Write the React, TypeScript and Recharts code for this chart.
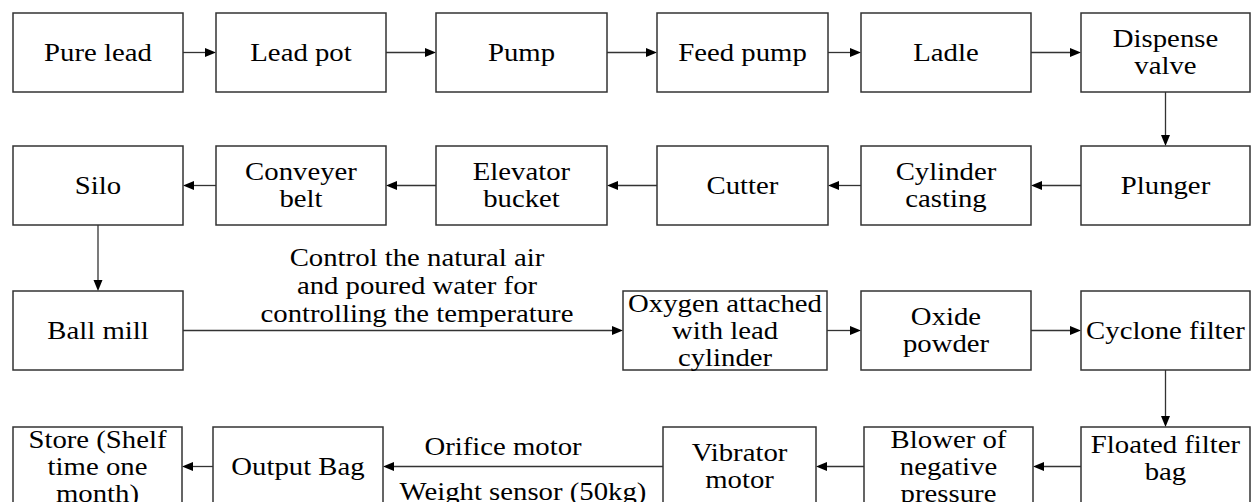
import React from "react";
import { ScatterChart, Scatter, XAxis, YAxis, ReferenceLine } from "recharts";

// ---------- content ----------
const stage1Labels = ["Pure lead", "Lead pot", "Pump", "Feed pump", "Ladle", "Dispense|valve"];
const stage2Labels = ["Silo", "Conveyer|belt", "Elevator|bucket", "Cutter", "Cylinder|casting", "Plunger"];
const stage3Labels = ["Ball mill", "Oxygen attached|with lead|cylinder", "Oxide|powder", "Cyclone filter"];
const stage4Labels = ["Store (Shelf|time one|month)", "Output Bag", "Vibrator|motor", "Blower of|negative|pressure", "Floated filter|bag"];

// process flow (from -> to)
const flowFrom = [
  "Pure lead", "Lead pot", "Pump", "Feed pump", "Ladle", "Dispense|valve",
  "Plunger", "Cylinder|casting", "Cutter", "Elevator|bucket", "Conveyer|belt", "Silo",
  "Ball mill", "Oxygen attached|with lead|cylinder", "Oxide|powder", "Cyclone filter",
  "Floated filter|bag", "Blower of|negative|pressure", "Vibrator|motor", "Output Bag",
];
const flowTo = [
  "Lead pot", "Pump", "Feed pump", "Ladle", "Dispense|valve", "Plunger",
  "Cylinder|casting", "Cutter", "Elevator|bucket", "Conveyer|belt", "Silo", "Ball mill",
  "Oxygen attached|with lead|cylinder", "Oxide|powder", "Cyclone filter", "Floated filter|bag",
  "Blower of|negative|pressure", "Vibrator|motor", "Output Bag", "Store (Shelf|time one|month)",
];
const flowNotesAbove = ["", "", "", "", "", "", "", "", "", "", "", "",
  "Control the natural air|and poured water for|controlling the temperature", "", "", "",
  "", "", "Orifice motor", ""];
const flowNotesBelow = ["", "", "", "", "", "", "", "", "", "", "", "",
  "", "", "", "", "", "", "Weight sensor (50kg)", ""];

// ---------- layout (chart units, 1 unit = 1 px) ----------
const W = 1251;
const H = 502;
const rowTop = [13, 146, 291, 427];
const boxH = 79;
const rowLeft = [
  [13, 216, 436, 657, 861, 1081],
  [13, 216, 436, 657, 861, 1081],
  [13, 623, 861, 1081],
  [13, 213, 663, 864, 1081],
];
const rowRight = [
  [183, 386, 607, 828, 1031, 1250],
  [183, 386, 607, 828, 1031, 1250],
  [183, 827, 1031, 1250],
  [182, 383, 816, 1033, 1250],
];
const textShift: Record<string, number> = { "Floated filter|bag": -8 };
const noteLayout: Record<string, { dx: number; dy: number; gap: number }> = {
  "Control the natural air|and poured water for|controlling the temperature": { dx: 14, dy: -45, gap: 28 },
  "Orifice motor": { dx: -20, dy: -20, gap: 28 },
  "Weight sensor (50kg)": { dx: 0, dy: 25, gap: 28 },
};

const FONT = "'Liberation Serif', 'Times New Roman', serif";
const FS = 25;
const SX = 1.15;
const LINE = 27;
const STROKE = "#333";

type Node = { x: number; y: number; w: number; h: number; row: number; label: string };

const stages = [stage1Labels, stage2Labels, stage3Labels, stage4Labels];
const nodes: Node[] = [];
stages.forEach((labels, r) => {
  labels.forEach((label, i) => {
    const l = rowLeft[r][i];
    const rr = rowRight[r][i];
    nodes.push({ x: (l + rr) / 2, y: rowTop[r] + boxH / 2, w: rr - l, h: boxH, row: r, label });
  });
});
const byLabel = (s: string) => nodes.find((n) => n.label === s)!;

const edges = flowFrom.map((f, i) => {
  const a = byLabel(f);
  const b = byLabel(flowTo[i]);
  if (a.row === b.row) {
    const right = b.x > a.x;
    return {
      p1: { x: right ? a.x + a.w / 2 : a.x - a.w / 2, y: a.y },
      p2: { x: right ? b.x - b.w / 2 : b.x + b.w / 2, y: a.y },
      above: flowNotesAbove[i],
      below: flowNotesBelow[i],
    };
  }
  return {
    p1: { x: a.x, y: a.y + a.h / 2 },
    p2: { x: a.x, y: b.y - b.h / 2 },
    above: flowNotesAbove[i],
    below: flowNotesBelow[i],
  };
});

function TextLines({ cx, cy, text, gap }: { cx: number; cy: number; text: string; gap: number }) {
  const lines = text.split("|");
  return (
    <g>
      {lines.map((ln, i) => (
        <text
          key={i}
          transform={`translate(${cx} ${cy + (i - (lines.length - 1) / 2) * gap}) scale(${SX} 1)`}
          textAnchor="middle"
          dominantBaseline="central"
          fontFamily={FONT}
          fontSize={FS}
          fill="#000"
        >
          {ln}
        </text>
      ))}
    </g>
  );
}

function NodeShape(props: any) {
  const { cx, cy, payload } = props;
  const w = payload.w;
  const h = payload.h;
  const shift = textShift[payload.label] || 0;
  return (
    <g>
      <rect x={cx - w / 2} y={cy - h / 2} width={w} height={h} fill="#fff" stroke={STROKE} strokeWidth={1.5} />
      <TextLines cx={cx} cy={cy + shift} text={payload.label} gap={LINE} />
    </g>
  );
}

function makeArrow(above: string, below: string) {
  return (p: any) => {
    const { x1, y1, x2, y2 } = p;
    const dx = x2 - x1;
    const dy = y2 - y1;
    const len = Math.sqrt(dx * dx + dy * dy) || 1;
    const ux = dx / len;
    const uy = dy / len;
    const L = 11;
    const hw = 4.5;
    const bx = x2 - ux * L;
    const by = y2 - uy * L;
    const pts = `${x2},${y2} ${bx - uy * hw},${by + ux * hw} ${bx + uy * hw},${by - ux * hw}`;
    const mx = (x1 + x2) / 2;
    const my = (y1 + y2) / 2;
    const notes = [above, below].filter((t) => t);
    return (
      <g>
        <line x1={x1} y1={y1} x2={bx} y2={by} stroke={STROKE} strokeWidth={1.3} />
        <polygon points={pts} fill="#000" />
        {notes.map((t, i) => {
          const lay = noteLayout[t];
          return <TextLines key={i} cx={mx + lay.dx} cy={my + lay.dy} text={t} gap={lay.gap} />;
        })}
      </g>
    );
  };
}

export default function App() {
  return (
    <div style={{ position: "absolute", left: 0, top: 0, background: "#fff" }}>
      <ScatterChart width={W} height={H} margin={{ top: 0, right: 0, bottom: 0, left: 0 }}>
        <XAxis type="number" dataKey="x" domain={[0, W]} hide allowDataOverflow />
        <YAxis type="number" dataKey="y" domain={[0, H]} reversed hide allowDataOverflow />
        {edges.map((e, i) => (
          <ReferenceLine
            key={i}
            segment={[e.p1, e.p2]}
            ifOverflow="visible"
            shape={makeArrow(e.above, e.below)}
          />
        ))}
        <Scatter data={nodes} shape={NodeShape} isAnimationActive={false} />
      </ScatterChart>
    </div>
  );
}
